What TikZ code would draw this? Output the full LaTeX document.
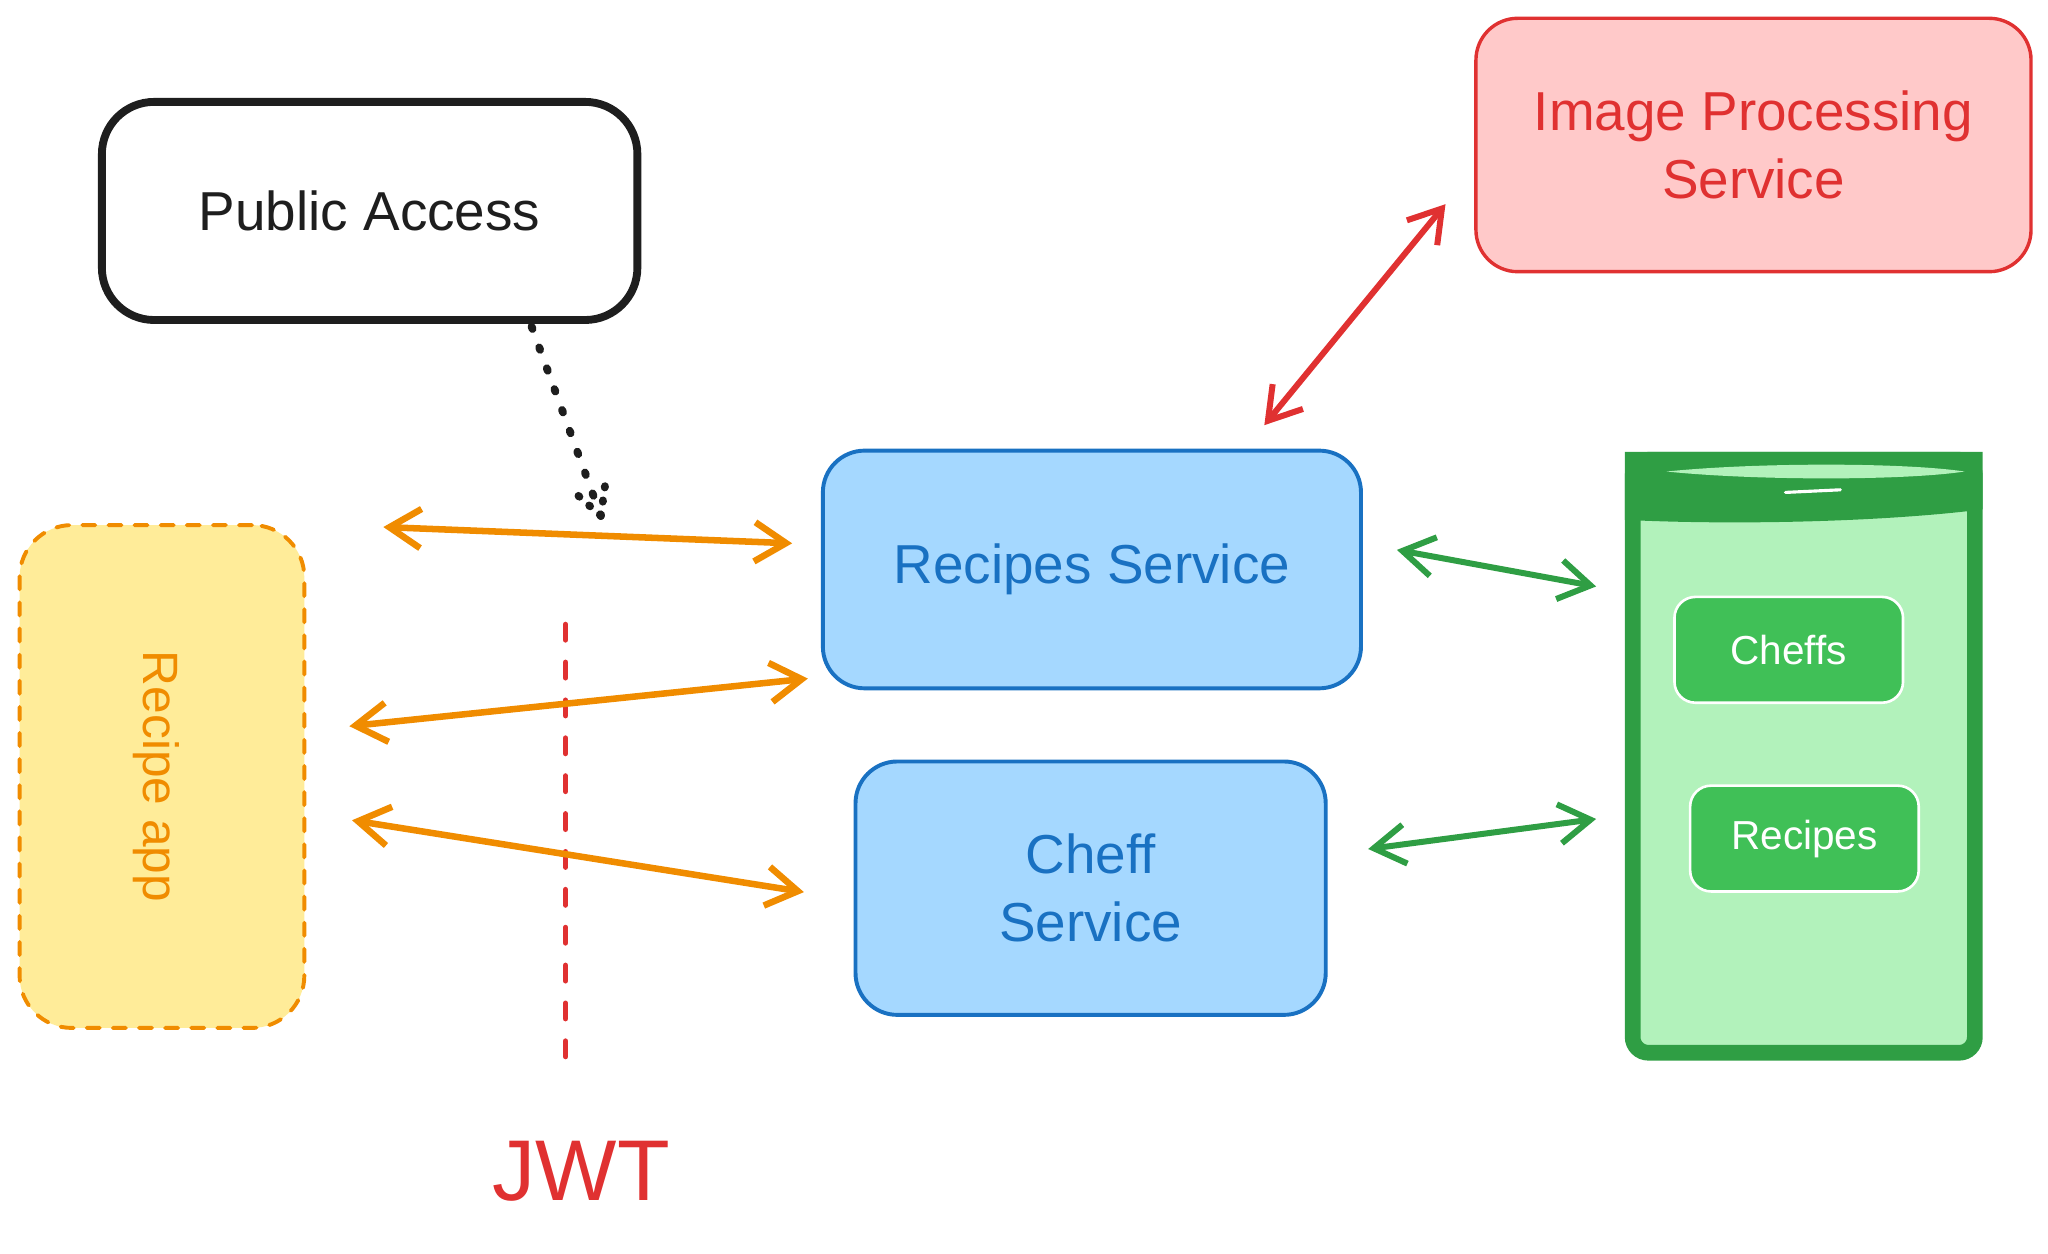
\documentclass[tikz,border=0pt]{standalone}
\usepackage{fontspec}
\setmainfont{Liberation Sans}
\usepackage{xcolor}
\usetikzlibrary{arrows.meta,calc,positioning}

\definecolor{inkblack}{HTML}{1E1E1E}
\definecolor{inkred}{HTML}{E03131}
\definecolor{fillred}{HTML}{FFC9C9}
\definecolor{inkblue}{HTML}{1971C2}
\definecolor{fillblue}{HTML}{A5D8FF}
\definecolor{inkorange}{HTML}{F08C00}
\definecolor{fillyellow}{HTML}{FFEC99}
\definecolor{inkgreen}{HTML}{2F9E44}
\definecolor{fillgreen}{HTML}{B2F2BB}
\definecolor{midgreen}{HTML}{40C057}

\begin{document}
\begin{tikzpicture}[x=0.5pt,y=-0.5pt,>={Straight Barb[length=12pt,width=15pt]},line cap=round,box node/.style={rectangle,rounded corners=16pt,draw,align=center,font=\fontsize{21}{26}\selectfont},service node/.style={box node,draw=inkblue,fill=fillblue,text=inkblue,line width=1.5pt},table node/.style={rectangle,rounded corners=8pt,draw=white,line width=1pt,fill=midgreen,text=white,minimum width=87.5pt,minimum height=40.5pt,font=\fontsize{15.5}{18}\selectfont},link/.style={<->,line width=2.5pt}]

            \useasboundingbox (0,0) rectangle (1568,960);

            \node[box node,draw=inkblack,text=inkblack,line width=3pt,rounded corners=20pt,minimum width=205pt,minimum height=83.5pt] (pa) at (283,161.5) {Public Access};
            \node[box node,draw=inkred,fill=fillred,text=inkred,line width=1.3pt,minimum width=212.5pt,minimum height=97pt] (ips) at (1342.5,111) {Image Processing\\Service};
            \node[service node,minimum width=206pt,minimum height=91pt] (rs) at (836,436) {Recipes Service};
            \node[service node,minimum width=180pt,minimum height=97pt] (cs) at (835,680) {Cheff\\Service};
            \node[box node,draw=inkorange,fill=fillyellow,line width=1.5pt,dash pattern=on 5pt off 5pt,rounded corners=20pt,minimum width=109pt,minimum height=192.5pt] (app) at (124,594.5) {};
            \node[rotate=-90,text=inkorange,font=\fontsize{19}{22}\selectfont] (app text) at ([xshift=-2pt]app.center) {Recipe app};

            \node[rectangle,rounded corners=6pt,draw=inkgreen,fill=fillgreen,line width=6pt,minimum width=131pt,minimum height=227pt] (db) at (1381,579) {};
            \fill[inkgreen] (db.north west) -- (db.north east) -- ([shift={(0,44)}]db.north east) .. controls ([shift={(-80,54)}]db.north east) and ([shift={(80,56)}]db.north west) .. ([shift={(0,52)}]db.north west) -- cycle;
            \fill[fillgreen] ([shift={(32,15)}]db.north west) .. controls ([shift={(100,8)}]db.north west) and ([shift={(-60,8)}]db.north east) .. ([shift={(-14,15)}]db.north east) .. controls ([shift={(-60,22)}]db.north east) and ([shift={(100,22)}]db.north west) .. cycle;
            \draw[white,line width=1.2pt] ([shift={(123,31)}]db.north west) -- ([shift={(165,29)}]db.north west);
            \node[table node] (chefs) at (1369.5,497.5) {Cheffs};
            \node[table node] (recs) at (1381.5,642) {Recipes};

            \node[text=inkred,font=\fontsize{33}{40}\selectfont] (jwt) at (445,897) {JWT};
            \coordinate (jwt top) at (433,478);
            \coordinate (jwt bottom) at (433,818);
            \draw[inkred,line width=2pt,dash pattern=on 6pt off 8.5pt] (jwt top) -- (jwt bottom);

            \coordinate (pa out) at ([shift={(124,2)}]pa.south);
            \coordinate (pa tip) at (460,395);
            \draw[inkblack,line width=3pt,dash pattern=on 1pt off 7.5pt] (pa out) -- (pa tip);
            \draw[inkblack,line width=3pt,dash pattern=on 0.5pt off 5pt] (pa tip) -- ($(pa tip)!13pt!28:(pa out)$) (pa tip) -- ($(pa tip)!13pt!-28:(pa out)$);

            \path[every edge/.style={draw,link,inkorange}]
                ([shift={(59,3)}]app.north east) edge ([shift={(-22,-20)}]rs.west)
                ([shift={(33,-38.5)}]app.east) edge ([shift={(-10,-9)}]rs.south west)
                ([shift={(35,33.5)}]app.east) edge ([shift={(-38,3)}]cs.west)
            ;
            \path[every edge/.style={draw,link,inkred,line width=2.3pt}]
                ([shift={(132,-18)}]rs.north) edge ([shift={(-22,-53)}]ips.south west)
            ;
            \path[every edge/.style={draw,link,inkgreen,line width=2.3pt}]
                ([shift={(26,-15)}]rs.east) edge ([shift={(-22,-130)}]db.west)
                ([shift={(31,-30)}]cs.east) edge ([shift={(-22,48)}]db.west)
            ;
        \end{tikzpicture}
\end{document}
